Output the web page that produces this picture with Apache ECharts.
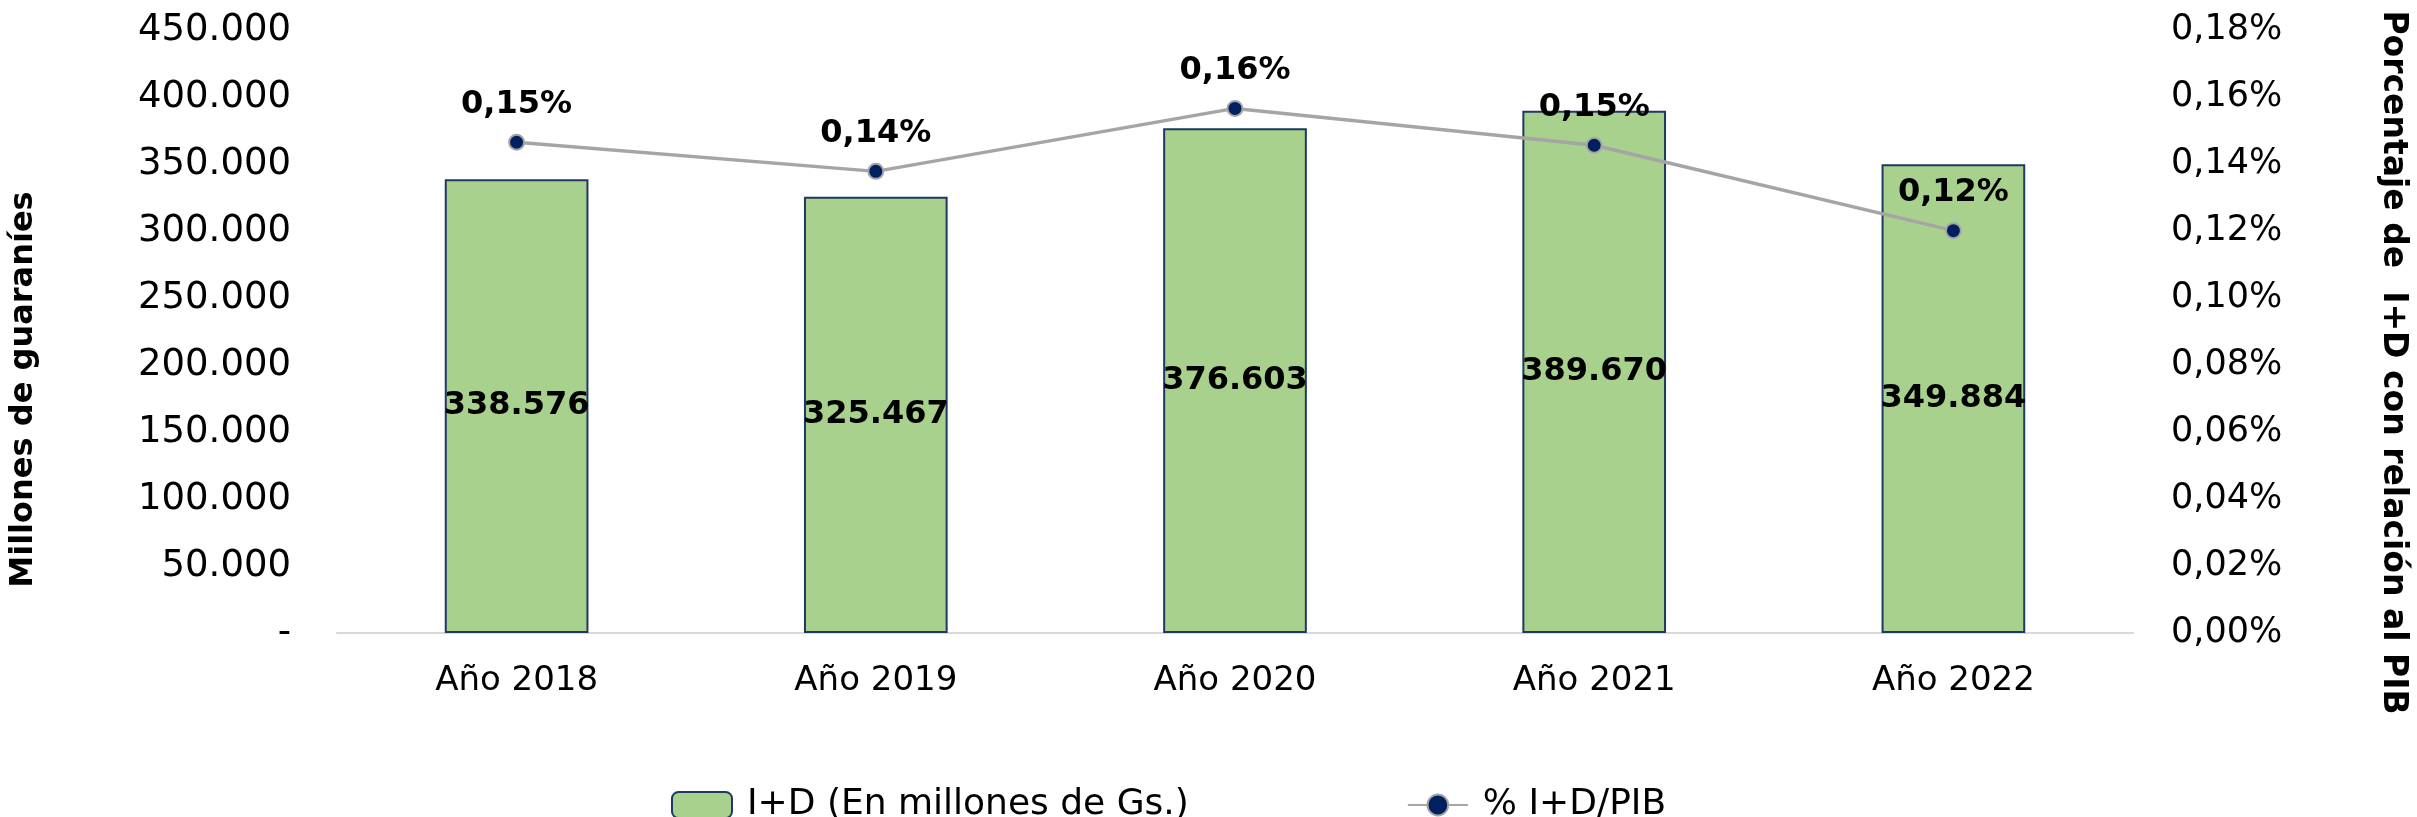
<!DOCTYPE html>
<html>
<head>
<meta charset="utf-8">
<script src="https://cdn.jsdelivr.net/npm/echarts@6/dist/echarts.min.js"></script>
<style>
  html, body { margin: 0; padding: 0; background: #fff; }
  #chart { width: 2417px; height: 817px; }
</style>
</head>
<body>
<div id="chart"></div>
<script>
// datos
const years = ["Año 2018", "Año 2019", "Año 2020", "Año 2021", "Año 2022"];
const idMillones = [338576, 325467, 376603, 389670, 349884];
const idPib = [0.1465, 0.1378, 0.1566, 0.1456, 0.1201];

const FONT = "DejaVu Sans";

// 450000 -> "450.000", 0 -> "-"
const fmtMiles = (v) => (v === 0 ? "-" : String(Math.round(v)).replace(/\B(?=(\d{3})+(?!\d))/g, "."));
const fmtPct = (v) => v.toFixed(2).replace(".", ",") + "%";

const chart = echarts.init(document.getElementById("chart"));

const option = {
  animation: false,
  textStyle: { fontFamily: FONT, color: "#000" },
  grid: { left: 329, right: 263, top: 30, bottom: 184 },
  legend: {
    left: 666,
    top: 782,
    itemGap: 218,
    itemWidth: 60,
    itemHeight: 26,
    textStyle: { fontFamily: FONT, fontSize: 36, color: "#000", padding: [0, 0, 0, 10] },
    data: ["I+D (En millones de Gs.)", "% I+D/PIB"],
  },
  xAxis: {
    type: "category",
    data: years,
    axisTick: { show: false },
    axisLine: { lineStyle: { color: "#D9D9D9", width: 2 } },
    axisLabel: { fontFamily: FONT, fontSize: 34, color: "#000", margin: 31 },
  },
  yAxis: [
    {
      type: "value",
      min: 0,
      max: 450000,
      interval: 50000,
      splitLine: { show: false },
      axisLine: { show: false },
      axisTick: { show: false },
      axisLabel: { fontFamily: FONT, fontSize: 37, color: "#000", margin: 46, formatter: fmtMiles },
      name: "Millones de guaraníes",
      nameLocation: "middle",
      nameRotate: 90,
      nameGap: 297,
      nameTextStyle: { fontFamily: FONT, fontSize: 32, fontWeight: "bold", color: "#000", padding: [0, 116, 0, 0] },
    },
    {
      type: "value",
      min: 0,
      max: 0.18,
      interval: 0.02,
      position: "right",
      splitLine: { show: false },
      axisLine: { show: false },
      axisTick: { show: false },
      axisLabel: { fontFamily: FONT, fontSize: 35, color: "#000", margin: 38, formatter: fmtPct },
      name: "Porcentaje de  I+D con relación al PIB",
      nameLocation: "middle",
      nameRotate: -90,
      nameGap: 243,
      nameTextStyle: { fontFamily: FONT, fontSize: 33, fontWeight: "bold", color: "#000", padding: [0, 0, 0, 62] },
    },
  ],
  series: [
    {
      name: "I+D (En millones de Gs.)",
      type: "bar",
      data: idMillones,
      barWidth: "40%",
      itemStyle: { color: "#A9D18E", borderColor: "#1F3864", borderWidth: 2 },
      label: {
        show: true,
        position: "inside",
        fontFamily: FONT,
        fontSize: 32,
        fontWeight: "bold",
        color: "#000",
        formatter: (p) => fmtMiles(p.value),
      },
    },
    {
      name: "% I+D/PIB",
      type: "line",
      yAxisIndex: 1,
      data: idPib,
      symbol: "circle",
      symbolSize: 15,
      lineStyle: { color: "#A5A5A5", width: 3.5 },
      itemStyle: { color: "#002060", borderColor: "#A5A5A5", borderWidth: 2 },
      label: {
        show: true,
        position: "top",
        distance: 13,
        fontFamily: FONT,
        fontSize: 32,
        fontWeight: "bold",
        color: "#000",
        formatter: (p) => fmtPct(p.value),
      },
    },
  ],
};

chart.setOption(option);
</script>
</body>
</html>
